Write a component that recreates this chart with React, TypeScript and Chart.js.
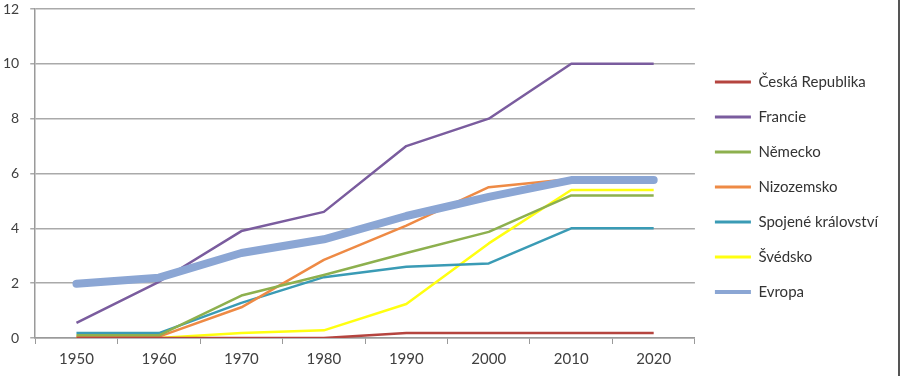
import React, { useEffect, useRef } from "react";
import { Chart, registerables } from "chart.js";

Chart.register(...registerables);

const years = ["1950", "1960", "1970", "1980", "1990", "2000", "2010", "2020"];
const seriesNames = [
  "Česká Republika",
  "Francie",
  "Německo",
  "Nizozemsko",
  "Spojené království",
  "Švédsko",
  "Evropa",
];
const ceskaRepublika = [0, 0, 0, 0, 0.18, 0.18, 0.18, 0.18];
const francie = [0.55, 2.05, 3.9, 4.6, 7.0, 8.0, 10.0, 10.0];
const nemecko = [0.1, 0.1, 1.55, 2.3, 3.1, 3.87, 5.2, 5.2];
const nizozemsko = [0.05, 0.05, 1.12, 2.85, 4.1, 5.5, 5.8, 5.8];
const spojeneKralovstvi = [0.18, 0.18, 1.28, 2.22, 2.6, 2.72, 4.0, 4.0];
const svedsko = [0, 0, 0.18, 0.28, 1.24, 3.45, 5.4, 5.4];
const evropa = [1.98, 2.2, 3.1, 3.6, 4.45, 5.15, 5.76, 5.76];
const yTicks = [0, 2, 4, 6, 8, 10, 12];

const colors = ["#b5443f", "#7a5c9e", "#8db04e", "#ee8a45", "#3a9bb5", "#ffff10", "#8ba6d4"];
const widths = [2.5, 2.5, 2.5, 2.5, 2.5, 2.5, 8];

export default function App() {
  const ref = useRef<HTMLCanvasElement | null>(null);

  useEffect(() => {
    document.body.style.margin = "0";
    const values = [ceskaRepublika, francie, nemecko, nizozemsko, spojeneKralovstvi, svedsko, evropa];
    const font = { family: "Lato, 'Open Sans', sans-serif", size: 15 };
    const yFont = { family: "Lato, 'Open Sans', sans-serif", size: 14 };
    const chart = new Chart(ref.current as HTMLCanvasElement, {
      type: "line",
      data: {
        labels: years,
        datasets: seriesNames.map((name, i) => ({
          label: name,
          data: values[i],
          borderColor: colors[i],
          backgroundColor: colors[i],
          borderWidth: widths[i],
          pointRadius: 0,
          tension: 0,
          borderCapStyle: i === 6 ? "round" : "butt",
          borderJoinStyle: "round",
          order: i === 6 ? -1 : i,
        })),
      },
      options: {
        animation: false,
        responsive: true,
        maintainAspectRatio: false,
        layout: { padding: { top: 0, right: 10, bottom: 2, left: -8 } },
        plugins: {
          tooltip: { enabled: false },
          legend: {
            position: "right",
            labels: {
              usePointStyle: true,
              pointStyle: "line",
              pointStyleWidth: 36,
              boxWidth: 36,
              padding: 20,
              color: "#333333",
              font,
              sort: (a: any, b: any) => a.datasetIndex - b.datasetIndex,
              generateLabels: (c: any) => {
                const items = Chart.defaults.plugins.legend.labels.generateLabels(c);
                return items.map((it: any) => ({
                  ...it,
                  lineWidth: it.datasetIndex === 6 ? 4 : 3,
                  pointStyle: "line",
                  strokeStyle: colors[it.datasetIndex],
                }));
              },
            },
          },
        },
        scales: {
          x: {
            type: "category",
            offset: true,
            grid: {
              offset: true,
              drawOnChartArea: false,
              drawTicks: true,
              tickLength: 6,
              color: "#9a9a9a",
              lineWidth: 1,
            },
            border: { color: "#9a9a9a", width: 1.5 },
            ticks: { color: "#404040", font, padding: 6, maxRotation: 0 },
          },
          y: {
            min: 0,
            max: 12,
            afterBuildTicks: (axis: any) => {
              axis.ticks = yTicks.map((v) => ({ value: v }));
            },
            afterFit: (axis: any) => {
              axis.paddingTop = 9;
            },
            grid: {
              color: "#aaaaaa",
              lineWidth: 1.5,
              tickLength: 5,
            },
            border: { color: "#9a9a9a", width: 1.5 },
            ticks: { color: "#404040", font: yFont, padding: 11 },
          },
        },
      },
    });
    return () => chart.destroy();
  }, []);

  return (
    <div
      style={{
        width: 900,
        height: 376,
        boxSizing: "border-box",
        borderRight: "2px solid #555",
        background: "#fff",
        position: "relative",
      }}
    >
      <canvas ref={ref} />
    </div>
  );
}
